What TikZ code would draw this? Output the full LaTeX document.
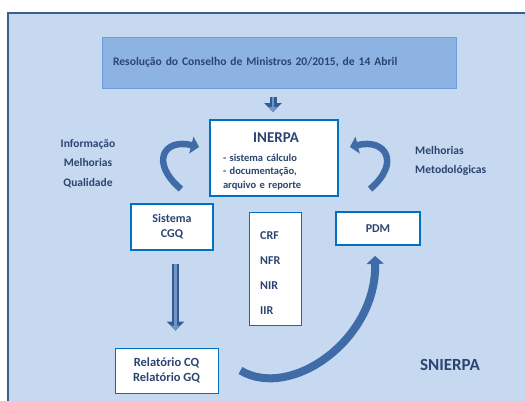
\documentclass[tikz,border=0pt]{standalone}
\usepackage{fontspec}
\setmainfont{Carlito}
\usetikzlibrary{arrows.meta,calc}

\definecolor{bgblue}{HTML}{C6D9F1}
\definecolor{frameblue}{HTML}{3A5F8C}
\definecolor{topfill}{HTML}{8DB3E2}
\definecolor{topdraw}{HTML}{6E9CD6}
\definecolor{boxblue}{HTML}{0070C0}
\definecolor{txtblue}{HTML}{2B4570}
\definecolor{arrowblue}{HTML}{3F6CA6}
\definecolor{arrowdark}{HTML}{345C91}
\definecolor{arrowlight}{HTML}{7096C8}

\tikzset{
  box/.style={draw=boxblue,fill=white,line width=1.8pt,align=center,inner sep=0pt},
  thinbox/.style={box,line width=0.9pt},
  curvearrow/.style={draw=arrowblue,line width=6.5pt,-{Triangle[length=8pt,width=17pt]}},
  blockarrow/.style={draw=arrowlight,line width=2.5pt,-{Triangle[length=5pt,width=10pt]},
    preaction={draw=arrowdark,line width=7pt,-{Triangle[length=9pt,width=17pt]}}}
}

\begin{document}
\begin{tikzpicture}[x=1pt,y=-1pt,text=txtblue,font=\bfseries]
\useasboundingbox (0,0) rectangle (525,401);
\clip (0,0) rectangle (525,401);
% frame
\draw[fill=bgblue,draw=frameblue,line width=2pt] (8,13) rectangle (545,425);

% boxes
\node[draw=topdraw,fill=topfill,line width=0.9pt,minimum width=354,minimum height=51,
  text width=332,inner xsep=11,align=left,font=\fontsize{11.6}{13}\selectfont\bfseries]
  (res) at (279,62.5) {Resolução do Conselho de Ministros 20/2015, de 14 Abril};
\node[box,minimum width=128,minimum height=76,text width=102,inner xsep=13,align=left,
  font=\fontsize{10.5}{13.5}\selectfont\bfseries]
  (inerpa) at (274,158) {\rule{0pt}{17pt}\makebox[102pt]{\hspace{4pt}\fontsize{15}{16}\selectfont INERPA}\\[5pt]
    - sistema cálculo\\
    - documentação,\\
    arquivo e reporte};
\node[box,minimum width=82,minimum height=46,font=\fontsize{12}{15}\selectfont\bfseries]
  (cgq) at (172,227) {Sistema\\CGQ};
\node[thinbox,minimum width=52,minimum height=113] (inv) at (275,268.5) {};
\node[anchor=west,align=left,inner sep=0pt,font=\fontsize{12}{25}\selectfont\bfseries]
  (invtxt) at (260,273.5) {CRF\\NFR\\NIR\\IIR};
\node[box,minimum width=84,minimum height=33,font=\fontsize{12}{13}\selectfont\bfseries]
  (pdm) at (378,228.5) {PDM};
\node[thinbox,minimum width=103,minimum height=45,font=\fontsize{12.5}{15.5}\selectfont\bfseries]
  (rel) at (166.5,370.5) {Relatório CQ\\Relatório GQ};

% labels
\node[align=center,font=\fontsize{11.5}{19.5}\selectfont\bfseries]
  (info) at (88,163.5) {Informação\\Melhorias\\Qualidade};
\node[anchor=west,align=left,inner sep=0pt,font=\fontsize{11.6}{19}\selectfont\bfseries]
  (metod) at (415,160.5) {Melhorias\\Metodológicas};
\node[font=\fontsize{17}{19}\selectfont\bfseries] (snierpa) at (450,365) {SNIERPA};

% arrows
\draw[blockarrow] ($(res.south -| inerpa.north)+(-1,9)$) -- ($(inerpa.north)+(-1,-7)$);
\draw[blockarrow] ($(cgq.south)+(3.5,13)$) -- ($(rel.north)+(9,-17)$);
\draw[curvearrow] ($(cgq.north)+(9,-14)$) .. controls +(-31,-26) and +(-36,-9) .. ($(inerpa.west)+(-10,-11)$);
\draw[curvearrow] ($(pdm.north)+(-8,-22)$) .. controls +(31,-26) and +(36,-9) .. ($(inerpa.east)+(11,-11)$);
\draw[curvearrow,line width=8pt] ($(rel.east)+(22,0)$) .. controls +(50,30) and +(2,84) .. ($(pdm.south)+(-3,10)$);
\end{tikzpicture}
\end{document}
